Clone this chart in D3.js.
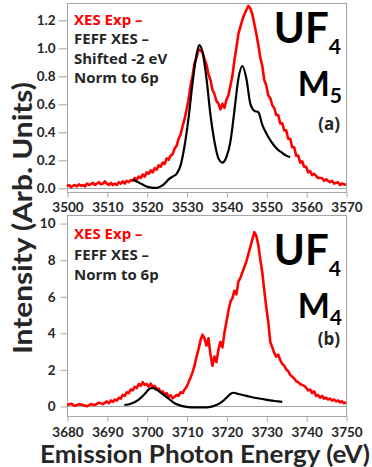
<!DOCTYPE html>
<html>
<head>
<meta charset="utf-8">
<script src="https://cdn.jsdelivr.net/npm/d3@7/dist/d3.min.js"></script>
<style>
  body { margin: 0; background: #fff; }
  svg text { font-family: Lato, "Open Sans", sans-serif; font-weight: bold; }
  svg text.legend, svg text.tag { font-family: "Open Sans", Lato, sans-serif; }
</style>
</head>
<body>
<div id="chart"></div>
<script>
"use strict";

// M5 panel (a): measured XES (red) and FEFF calc (black), [energy eV, intensity]
const m5Exp = [
  [3500,0.01],[3500.5,0.02],[3501,0.005],[3501.5,0.015],[3502,0.02],[3502.5,0.01],[3503,0.025],[3503.5,0.015],
  [3504,0.02],[3504.5,0.01],[3505,0.03],[3505.5,0.02],[3506,0.025],[3506.5,0.035],[3507,0.02],[3507.5,0.03],
  [3508,0.04],[3508.5,0.025],[3509,0.03],[3509.5,0.045],[3510,0.03],[3510.5,0.02],[3511,0.035],[3511.5,0.02],
  [3512,0.03],[3512.5,0.02],[3513,0.04],[3513.5,0.03],[3514,0.045],[3514.5,0.03],[3515,0.05],[3515.5,0.04],
  [3516,0.055],[3516.5,0.05],[3517,0.07],[3517.5,0.06],[3518,0.08],[3518.5,0.07],[3519,0.095],[3519.5,0.08],
  [3520,0.11],[3520.5,0.1],[3521,0.125],[3521.5,0.11],[3522,0.14],[3522.5,0.13],[3523,0.16],[3523.5,0.15],
  [3524,0.18],[3524.5,0.17],[3525,0.21],[3525.5,0.2],[3526,0.23],[3526.5,0.24],[3527,0.28],[3527.5,0.3],
  [3528,0.35],[3528.5,0.38],[3529,0.44],[3529.5,0.49],[3530,0.56],[3530.5,0.63],[3531,0.73],[3531.5,0.8],
  [3532,0.89],[3532.5,0.93],[3533,0.99],[3533.5,0.98],[3534,0.97],[3534.5,0.92],[3535,0.88],[3535.5,0.81],
  [3536,0.77],[3536.5,0.7],[3537,0.67],[3537.5,0.62],[3538,0.6],[3538.5,0.56],[3539,0.6],[3539.5,0.57],
  [3540,0.63],[3540.5,0.66],[3541,0.73],[3541.5,0.8],[3542,0.91],[3542.5,1.0],[3543,1.1],[3543.5,1.15],
  [3544,1.2],[3544.5,1.24],[3545,1.27],[3545.5,1.3],[3546,1.28],[3546.5,1.24],[3547,1.17],[3547.5,1.1],
  [3548,1.02],[3548.5,0.93],[3549,0.87],[3549.5,0.77],[3550,0.73],[3550.5,0.66],[3551,0.64],[3551.5,0.59],
  [3552,0.57],[3552.5,0.52],[3553,0.52],[3553.5,0.46],[3554,0.46],[3554.5,0.41],[3555,0.41],[3555.5,0.35],
  [3556,0.35],[3556.5,0.29],[3557,0.29],[3557.5,0.23],[3558,0.23],[3558.5,0.18],[3559,0.19],[3559.5,0.15],
  [3560,0.15],[3560.5,0.11],[3561,0.12],[3561.5,0.09],[3562,0.1],[3563,0.07],[3564,0.07],[3564.5,0.05],
  [3565,0.06],[3566,0.04],[3566.5,0.05],[3567,0.03],[3568,0.04],[3568.5,0.02],[3569,0.03],[3570,0.02]
];
const m5Feff = [
  [3516.5,0.06],[3517.5,0.045],[3518.5,0.03],[3519.5,0.015],[3520.5,0.005],[3521.5,0.0],[3522.5,0.0],
  [3523.5,0.01],[3524.5,0.03],[3525.5,0.06],[3526.5,0.08],[3527.5,0.1],[3528.5,0.16],[3529.5,0.3],
  [3530.5,0.5],[3531.5,0.75],[3532.5,0.95],[3533.2,1.02],[3534,0.97],[3535,0.78],[3536,0.52],[3537,0.33],
  [3538,0.21],[3539,0.18],[3540,0.22],[3541,0.33],[3542,0.55],[3543,0.78],[3544,0.87],[3545,0.78],
  [3546,0.6],[3547,0.55],[3548,0.54],[3549,0.45],[3550,0.39],[3551,0.34],[3552,0.3],[3553,0.27],
  [3554,0.25],[3555,0.23],[3556,0.22]
];

// M4 panel (b)
const m4Exp = [
  [3680,0.05],[3681,0.12],[3682,0.0],[3683,0.1],[3684,0.05],[3685,-0.02],[3686,0.1],[3687,0.05],[3688,0.18],
  [3689,0.1],[3690,0.25],[3690.5,0.15],[3691,0.3],[3691.5,0.22],[3692,0.35],[3692.5,0.3],[3693,0.45],
  [3693.5,0.4],[3694,0.6],[3694.5,0.55],[3695,0.75],[3695.5,0.7],[3696,0.9],[3696.5,0.85],[3697,1.05],
  [3697.5,0.98],[3698,1.2],[3698.5,1.1],[3699,1.3],[3699.5,1.15],[3700,1.2],[3700.5,1.05],[3701,1.22],
  [3701.5,1.05],[3702,1.1],[3702.5,0.9],[3703,0.95],[3703.5,0.75],[3704,0.8],[3704.5,0.62],[3705,0.7],
  [3705.5,0.5],[3706,0.58],[3706.5,0.42],[3707,0.5],[3707.5,0.6],[3708,0.55],[3708.5,0.75],[3709,0.7],
  [3709.5,0.9],[3710,1.05],[3710.5,1.3],[3711,1.55],[3711.5,1.85],[3712,2.2],[3712.5,2.7],[3713,3.1],
  [3713.5,3.6],[3714,3.9],[3714.5,3.7],[3715,3.3],[3715.5,3.7],[3716,2.8],[3716.5,2.2],[3717,2.7],
  [3717.5,2.4],[3718,3.1],[3718.5,3.5],[3719,3.2],[3719.5,4.0],[3720,4.6],[3720.5,5.2],[3721,5.7],
  [3721.5,5.9],[3722,6.3],[3722.5,6.1],[3723,6.8],[3723.5,7.0],[3724,7.3],[3724.5,7.6],[3725,7.9],
  [3725.5,8.3],[3726,8.7],[3726.5,9.1],[3727,9.5],[3727.5,9.3],[3728,8.8],[3728.5,8.0],[3729,7.3],
  [3729.5,6.3],[3730,5.4],[3730.5,4.6],[3731,3.5],[3731.5,3.2],[3732,2.9],[3732.5,2.7],[3733,2.8],
  [3733.5,2.5],[3734,2.3],[3734.5,2.2],[3735,2.0],[3735.5,1.9],[3736,1.7],[3736.5,1.6],[3737,1.5],
  [3737.5,1.35],[3738,1.3],[3738.5,1.2],[3739,1.15],[3739.5,1.1],[3740,1.0],[3740.5,0.85],[3741,0.9],
  [3741.5,0.7],[3742,0.8],[3742.5,0.55],[3743,0.6],[3743.5,0.45],[3744,0.55],[3744.5,0.4],[3745,0.45],
  [3745.5,0.35],[3746,0.4],[3746.5,0.3],[3747,0.35],[3747.5,0.25],[3748,0.3],[3748.5,0.2],[3749,0.25],
  [3749.5,0.15],[3750,0.2]
];
const m4Feff = [
  [3694.4,0.05],[3696,0.12],[3698,0.35],[3699.5,0.65],[3700.5,0.9],[3701.4,0.98],[3702.5,0.88],[3704,0.65],
  [3705.5,0.4],[3707,0.15],[3708.5,0.02],[3710,-0.05],[3712,-0.08],[3714,-0.08],[3716,-0.05],[3717.5,0.05],
  [3719,0.25],[3720,0.45],[3721,0.65],[3721.8,0.72],[3723,0.65],[3725,0.55],[3727,0.45],[3729,0.38],
  [3731,0.3],[3733,0.25],[3734,0.22]
];

const m5XTicks = [3500, 3510, 3520, 3530, 3540, 3550, 3560, 3570];
const m5YTicks = [0, 0.2, 0.4, 0.6, 0.8, 1.0, 1.2];
const m4XTicks = [3680, 3690, 3700, 3710, 3720, 3730, 3740, 3750];
const m4YTicks = [0, 2, 4, 6, 8, 10];

const m5Legend = ["XES Exp \u2013", "FEFF XES \u2013", "Shifted -2 eV", "Norm to 6p"];
const m4Legend = ["XES Exp \u2013", "FEFF XES \u2013", "Norm to 6p"];

const svg = d3.select("#chart").append("svg")
  .attr("width", 372)
  .attr("height", 467);

const gray = "#a6a6a6";
const ink = "#262626";

function panel(cfg) {
  const x = d3.scaleLinear().domain(cfg.xDomain).range([67, 346]);
  const y = d3.scaleLinear().domain(cfg.yDomain).range([cfg.bottom, cfg.top]);

  // frame
  svg.append("rect")
    .attr("x", 67.5).attr("y", cfg.top + 0.5)
    .attr("width", 346 - 67).attr("height", cfg.bottom - cfg.top)
    .attr("fill", "none").attr("stroke", gray);

  // zero line
  svg.append("line")
    .attr("x1", 67).attr("x2", 346)
    .attr("y1", Math.round(y(0)) + 0.5).attr("y2", Math.round(y(0)) + 0.5)
    .attr("stroke", gray);

  const xAxis = svg.append("g")
    .attr("transform", `translate(0.5, ${cfg.bottom + 0.5})`)
    .call(d3.axisBottom(x).tickValues(cfg.xTicks).tickFormat(d3.format("d"))
      .tickSize(5).tickPadding(cfg.xPad));
  const yAxis = svg.append("g")
    .attr("transform", `translate(67.5, 0.5)`)
    .call(d3.axisLeft(y).tickValues(cfg.yTicks).tickFormat(cfg.yFormat)
      .tickSize(cfg.yTickSize).tickPadding(cfg.yPad));

  [xAxis, yAxis].forEach(g => {
    g.select(".domain").remove();
    g.selectAll(".tick line").attr("stroke", gray);
    g.selectAll(".tick text").attr("fill", ink).style("font-size", "13.5px");
  });

  svg.append("path").datum(cfg.exp)
    .attr("d", d3.line().x(d => x(d[0])).y(d => y(d[1])))
    .attr("fill", "none").attr("stroke", "#ff0000").attr("stroke-width", 2.6)
    .attr("stroke-linejoin", "round");
  svg.append("path").datum(cfg.feff)
    .attr("d", d3.line().x(d => x(d[0])).y(d => y(d[1])).curve(d3.curveMonotoneX))
    .attr("fill", "none").attr("stroke", "#000").attr("stroke-width", 2.2);

  // legend text
  cfg.legend.forEach((t, i) => {
    svg.append("text")
      .attr("class", "legend")
      .attr("x", 74).attr("y", cfg.legendY[i])
      .attr("fill", i === 0 ? "#ff0000" : ink)
      .style("font-size", "15px")
      .text(t);
  });

  // big labels
  const uf = svg.append("text")
    .attr("x", 341).attr("y", cfg.ufY)
    .attr("text-anchor", "end")
    .attr("fill", "#000")
    .style("font-size", "42px");
  uf.append("tspan").text("UF");
  uf.append("tspan").attr("dy", 11).style("font-size", "21px").text("4");

  const m = svg.append("text")
    .attr("x", 342).attr("y", cfg.mY)
    .attr("text-anchor", "end")
    .attr("fill", "#000")
    .style("font-size", "34px");
  m.append("tspan").text("M");
  m.append("tspan").attr("dy", 7).style("font-size", "21px").text(cfg.sub);

  svg.append("text")
    .attr("class", "tag")
    .attr("x", 340).attr("y", cfg.tagY)
    .attr("text-anchor", "end")
    .attr("fill", ink)
    .style("font-size", "17px")
    .text(cfg.tag);
}

panel({
  xDomain: [3500, 3570], yDomain: [-0.03, 1.32], top: 3, bottom: 192,
  xTicks: m5XTicks, yTicks: m5YTicks, yFormat: d3.format(".1f"),
  xPad: 5, yTickSize: 9, yPad: 3,
  exp: m5Exp, feff: m5Feff,
  legend: m5Legend, legendY: [25, 44, 64, 83],
  ufY: 43, mY: 96, sub: "5", tagY: 130, tag: "(a)"
});

panel({
  xDomain: [3680, 3750], yDomain: [-0.55, 10.44], top: 215, bottom: 416,
  xTicks: m4XTicks, yTicks: m4YTicks, yFormat: d3.format("d"),
  xPad: 6, yTickSize: 7, yPad: 5,
  exp: m4Exp, feff: m4Feff,
  legend: m4Legend, legendY: [239, 260, 280],
  ufY: 265, mY: 318, sub: "4", tagY: 345, tag: "(b)"
});

// axis titles
svg.append("text")
  .attr("x", 205).attr("y", 463)
  .attr("text-anchor", "middle")
  .attr("fill", ink)
  .attr("textLength", 330).attr("lengthAdjust", "spacingAndGlyphs")
  .style("font-size", "24px")
  .text("Emission Photon Energy (eV)");

svg.append("text")
  .attr("transform", "translate(32, 218) rotate(-90)")
  .attr("text-anchor", "middle")
  .attr("fill", ink)
  .attr("textLength", 272).attr("lengthAdjust", "spacingAndGlyphs")
  .style("font-size", "26px")
  .text("Intensity (Arb. Units)");
</script>
</body>
</html>
